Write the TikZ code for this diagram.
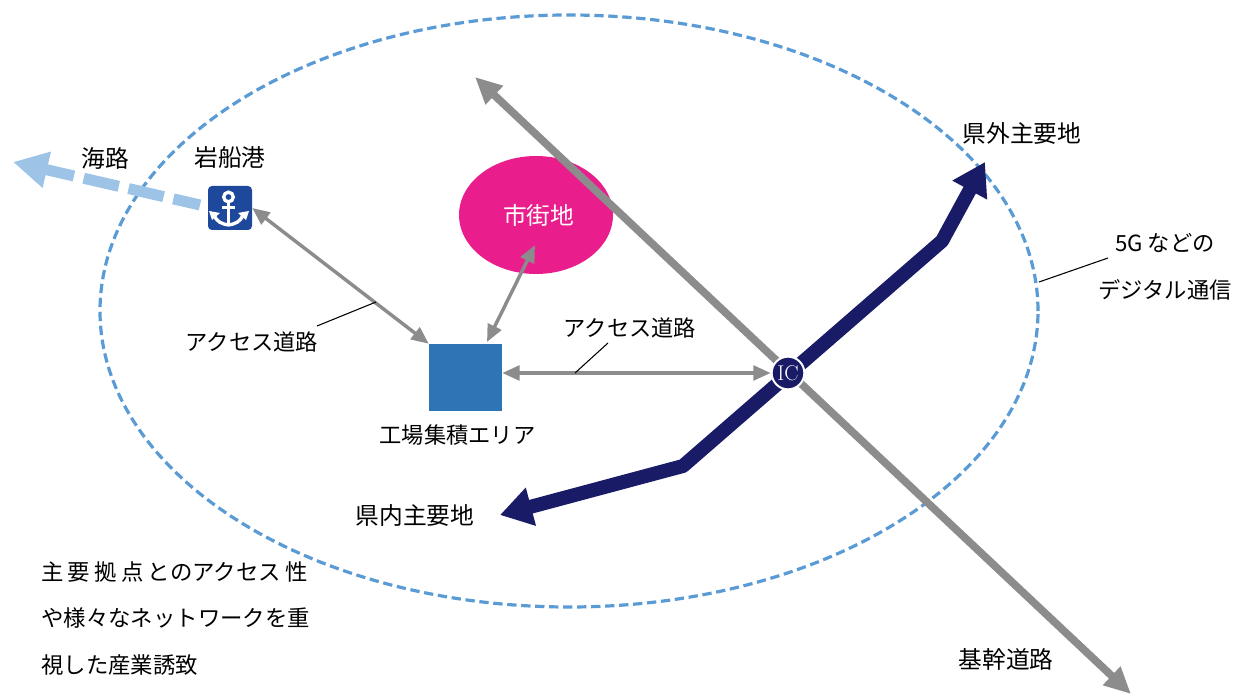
\documentclass[tikz,border=0pt]{standalone}
\usepackage{fontspec}
\usepackage{tikz}
\usetikzlibrary{arrows.meta,shapes.geometric,positioning}
\newfontfamily\jpfont{Noto Sans CJK JP}
\newcommand{\spc}{\kern 3.2pt}
\definecolor{Ring}{RGB}{91,155,213}
\definecolor{SeaBlue}{RGB}{157,195,230}
\definecolor{Navy}{RGB}{25,27,102}
\definecolor{RoadGray}{RGB}{140,140,140}
\definecolor{PortBlue}{RGB}{30,72,155}
\definecolor{AreaBlue}{RGB}{46,117,182}
\definecolor{CityPink}{RGB}{233,30,140}

\begin{document}
\begin{tikzpicture} [x=0.75pt, y=-0.75pt, text=black,
       every node/.style={font=\jpfont\fontsize{16.7}{20}\selectfont, inner sep=0pt},
       textlabel/.style = {align=center},
       placelabel/.style = {align=center, font=\jpfont\fontsize{17.8}{20}\selectfont},
       access/.style = {{Triangle[length=13pt,width=11pt]}-{Triangle[length=13pt,width=11pt]}, RoadGray, line width=2.6pt},
       leader/.style = {black, line width=0.8pt},
       mainroad/.style = {{Triangle[length=20pt,width=18pt]}-{Triangle[length=20pt,width=18pt]}, RoadGray, line width=5.8pt},
       expressway/.style = {{Triangle[length=24pt,width=28pt]}-{Triangle[length=24pt,width=28pt]}, Navy, line width=10.5pt}]
	\useasboundingbox (0,0) rectangle (1243,695);

	%% 5G area
	\node [ellipse, minimum width=703.5pt, minimum height=444pt, draw=Ring, line width=2.4pt,
	       dash pattern=on 7pt off 3.5pt] (area) at (569,311) {};

	%% City and factories
	\node [ellipse, minimum width=115.5pt, minimum height=88.5pt, fill=CityPink,
	       text=white, font=\jpfont\fontsize{17.8}{20}\selectfont] (city) at (536,215) {\kern 4pt 市街地};
	\node [rectangle, minimum width=54.75pt, minimum height=50.25pt, fill=AreaBlue] (factory) at (465.5,377.5) {};
	\node [textlabel, below=10pt of factory, xshift=-6pt] (factorylbl) {工場集積エリア};

	%% Port
	\node [rectangle, rounded corners=3pt, minimum size=33pt, fill=PortBlue] (port) at (230,208) {};
	\begin{scope}[white, line width=2.5pt]
		\draw (228.5,197) circle (4.8);
		\draw (228.5,202) -- (228.5,225);
		\draw (222,207.5) -- (235,207.5);
		\draw (214,214) .. controls (216,222) and (222,224) .. (228.5,225)
		      .. controls (235,224) and (241,222) .. (243,214);
		\fill (209,211) -- (220,213) -- (212,220) -- cycle;
		\fill (249,211) -- (238,213) -- (246,220) -- cycle;
	\end{scope}
	\node [placelabel, above=13pt of port] (portlbl) {岩船港};

	%% Reference coordinates for the roads
	\coordinate (seafrom) at (200,205);
	\coordinate (seatip) at (13,162);
	\coordinate (roadnw) at (475,77);
	\coordinate (roadse) at (1131,694);
	\coordinate (wayin) at (500,515);
	\coordinate (bendin) at (683,466);
	\coordinate (bendout) at (942,241);
	\coordinate (wayout) at (985,162);
	\coordinate (citytip) at (535,245);
	\coordinate (factorytip) at (487,342);

	%% Roads and sea route
	\draw[-{Triangle[length=26pt,width=26pt]}, SeaBlue, line width=8.25pt,
	      dash pattern=on 27pt off 7.5pt, dash phase=6.5pt] (seafrom) -- (seatip);
	\draw[mainroad] (roadnw) -- (roadse);
	\draw[expressway, line join=bevel] (wayin) -- (bendin) -- (bendout) -- (wayout);

	%% Interchange
	\node [circle, minimum size=24.5pt, fill=Navy, draw=white, line width=1.5pt, text=white,
	       font=\rmfamily\fontsize{16}{16}\selectfont] (ic) at (788,373) {IC};

	%% Access paths
	\draw[access] (port.east) -- (factory.north west);
	\draw[access] (factorytip) -- (citytip);
	\draw[access] (factory.east |- ic) -- (ic.west);

	%% Labels
	\node [placelabel] (sealbl) at (105,158) {海路};
	\node [placelabel] (outlbl) at (1022,133) {県外主要地};
	\node [placelabel] (inlbl) at (415,516) {県内主要地};
	\node [placelabel] (roadlbl) at (1006,659) {基幹道路};
	\node [textlabel] (accessw) at (252,342) {アクセス道路};
	\node [textlabel] (accesse) at (630,328) {アクセス道路};
	\node [textlabel] (tele) at (1165,243) {5G などの};
	\node [textlabel, below=20pt of tele] (telesub) {デジタル通信};
	\node [align=left, anchor=north west, font=\jpfont\fontsize{16.8}{34.7}\selectfont] (note) at (41,561.5)
	      {主\spc 要\spc 拠\spc 点\spc とのアクセス\spc 性\\や様々なネットワークを重\\視した産業誘致};

	%% Leader lines
	\coordinate (leadwa) at (317,326);
	\coordinate (leadwb) at (376,302);
	\coordinate (leadea) at (575,373);
	\coordinate (leadeb) at (608,343);
	\coordinate (leadta) at (1039,282);
	\coordinate (leadtb) at (1108,258);
	\draw[leader] (leadwa) -- (leadwb);
	\draw[leader] (leadea) -- (leadeb);
	\draw[leader] (leadta) -- (leadtb);
\end{tikzpicture}
\end{document}
